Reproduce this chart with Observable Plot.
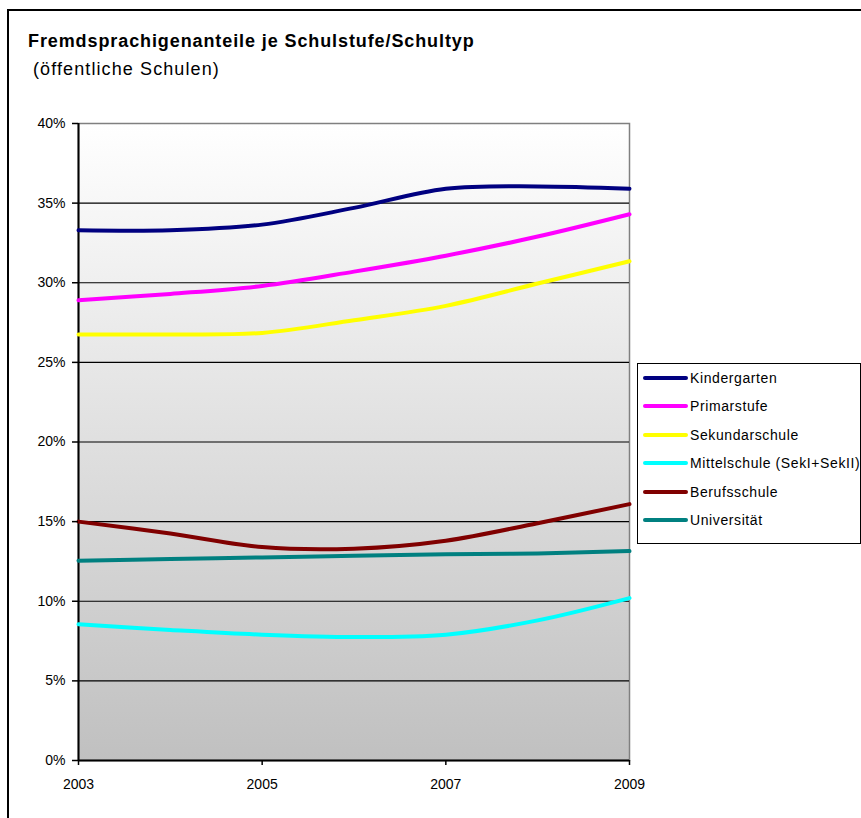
<!DOCTYPE html>
<html>
<head>
<meta charset="utf-8">
<script src="https://cdn.jsdelivr.net/npm/d3@7"></script>
<script src="https://cdn.jsdelivr.net/npm/@observablehq/plot@0.6"></script>
<style>
  html, body { margin: 0; padding: 0; background: #fff; }
  body { width: 861px; height: 818px; position: relative; overflow: hidden; font-family: "Liberation Sans", Arial, sans-serif; color: #000; }
  #frame { position: absolute; left: 7px; top: 9px; width: 900px; height: 900px; border: 2px solid #000; box-sizing: border-box; }
  #chart { position: absolute; left: 0; top: 0; }
  #title { position: absolute; left: 28px; top: 31px; font-size: 18px; font-weight: bold; letter-spacing: 0.9px; white-space: nowrap; }
  #subtitle { position: absolute; left: 33px; top: 59px; font-size: 18px; letter-spacing: 1.1px; white-space: nowrap; }
  #legend { position: absolute; left: 637px; top: 363px; width: 224px; height: 181px; border: 1px solid #000; background: #fff; box-sizing: border-box; }
  .item { position: absolute; left: 5px; height: 20px; display: flex; align-items: center; font-size: 14px; letter-spacing: 0.6px; white-space: nowrap; }
  .swatch { width: 45px; height: 4px; margin-right: 2px; border-radius: 2px; }
</style>
</head>
<body>
<div id="frame"></div>
<div id="chart"></div>
<div id="title">Fremdsprachigenanteile je Schulstufe/Schultyp</div>
<div id="subtitle">(öffentliche Schulen)</div>
<div id="legend"></div>
<script>
// ---- data (percent) ----
const years = [2003, 2004, 2005, 2006, 2007, 2008, 2009];
const kindergarten   = [33.3, 33.3, 33.65, 34.7, 35.9, 36.05, 35.9];
const primarstufe    = [28.9, 29.3, 29.8, 30.7, 31.7, 32.9, 34.3];
const sekundarschule = [26.75, 26.75, 26.85, 27.65, 28.55, 29.95, 31.35];
const mittelschule   = [8.55, 8.2, 7.9, 7.75, 7.9, 8.8, 10.2];
const berufsschule   = [15.0, 14.25, 13.4, 13.3, 13.8, 14.9, 16.1];
const universitaet   = [12.55, 12.65, 12.75, 12.85, 12.95, 13.0, 13.15];

const seriesNames  = ["Kindergarten", "Primarstufe", "Sekundarschule", "Mittelschule (SekI+SekII)", "Berufsschule", "Universität"];
const seriesValues = [kindergarten, primarstufe, sekundarschule, mittelschule, berufsschule, universitaet];
const seriesColors = ["#000080", "#ff00ff", "#ffff00", "#00ffff", "#800000", "#008080"];

const yTicks = [0, 5, 10, 15, 20, 25, 30, 35, 40];
const xTicks = [2003, 2005, 2007, 2009];
const gridValues = [5, 10, 15, 20, 25, 30, 35];

const rows = [];
seriesNames.forEach((name, i) => {
  years.forEach((yr, j) => rows.push({ series: name, year: yr, value: seriesValues[i][j] }));
});

const chart = Plot.plot({
  width: 861,
  height: 818,
  marginLeft: 78,
  marginRight: 232,
  marginTop: 123,
  marginBottom: 58,
  style: { fontFamily: "'Liberation Sans', Arial, sans-serif", fontSize: "14px", background: "transparent", color: "#000" },
  x: { domain: [2003, 2009] },
  y: { domain: [0, 40] },
  color: { domain: seriesNames, range: seriesColors },
  marks: [
    Plot.frame({ fill: "url(#bgGrad)", stroke: "#808080", strokeWidth: 1.5 }),
    Plot.ruleY(gridValues, { stroke: "#000", strokeWidth: 1.2 }),
    Plot.ruleY([0], { stroke: "#000", strokeWidth: 2 }),
    Plot.ruleX([2003], { stroke: "#000", strokeWidth: 2 }),
    Plot.line(rows, { x: "year", y: "value", z: "series", stroke: "series", strokeWidth: 4, curve: "catmull-rom" }),
    Plot.axisY({ ticks: yTicks, tickFormat: d => d + "%", tickSize: 6, tickPadding: 7, label: null, stroke: "#000", strokeWidth: 1.5 }),
    Plot.axisX({ ticks: xTicks, tickFormat: d => String(d), tickSize: 5, tickPadding: 14, label: null, stroke: "#000", strokeWidth: 1.5 })
  ]
});

// gradient background for the plot area
const ns = "http://www.w3.org/2000/svg";
const defs = document.createElementNS(ns, "defs");
const grad = document.createElementNS(ns, "linearGradient");
grad.setAttribute("id", "bgGrad");
grad.setAttribute("x1", "0"); grad.setAttribute("y1", "0");
grad.setAttribute("x2", "0"); grad.setAttribute("y2", "1");
[["0%", "#ffffff"], ["100%", "#c0c0c0"]].forEach(([o, c]) => {
  const s = document.createElementNS(ns, "stop");
  s.setAttribute("offset", o); s.setAttribute("stop-color", c);
  grad.appendChild(s);
});
defs.appendChild(grad);
chart.insertBefore(defs, chart.firstChild);

document.getElementById("chart").appendChild(chart);

// legend
const legend = document.getElementById("legend");
seriesNames.forEach((name, i) => {
  const it = document.createElement("div");
  it.className = "item";
  it.style.top = (4 + i * 28.4) + "px";
  const sw = document.createElement("div");
  sw.className = "swatch";
  sw.style.background = seriesColors[i];
  const tx = document.createElement("span");
  tx.textContent = name;
  it.appendChild(sw); it.appendChild(tx);
  legend.appendChild(it);
});
</script>
</body>
</html>
